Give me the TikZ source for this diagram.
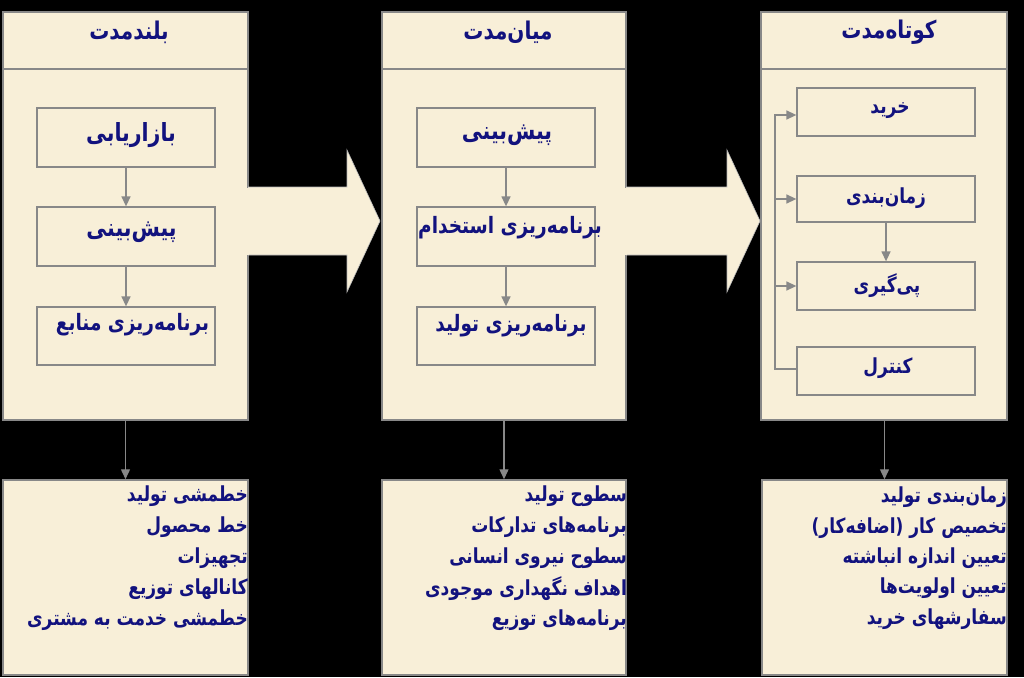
\documentclass[tikz,border=0pt]{standalone}
\usepackage{graphicx}
\usepackage{fontspec}
\newfontfamily\fa[Script=Arabic]{DejaVu Sans}
\TeXXeTstate=1
\usetikzlibrary{arrows.meta}
\definecolor{parch}{HTML}{F8EFD8}
\definecolor{navy}{HTML}{12127E}
\definecolor{edgegray}{HTML}{888888}
\newcommand{\rtltext}[1]{\scalebox{1}[1.22]{\fa\bfseries\beginR #1\endR}}
\begin{document}
\begin{tikzpicture}[x=1pt,y=-1pt,
  panel/.style={draw=edgegray, line width=1.5pt, fill=parch, inner sep=0pt},
  innerbox/.style={draw=edgegray, line width=1.3pt, fill=parch, inner sep=0pt, minimum width=178pt},
  conn/.style={draw=edgegray, line width=1.4pt, -{Triangle[length=10pt,width=9pt]}},
  headtxt/.style={text=navy, inner sep=0pt, font=\fontsize{20}{22}\selectfont},
  bigtxt/.style={text=navy, inner sep=0pt, font=\fontsize{20.5}{23}\selectfont},
  midtxt/.style={text=navy, inner sep=0pt, font=\fontsize{18.5}{20}\selectfont},
  smalltxt/.style={text=navy, inner sep=0pt, font=\fontsize{17}{19}\selectfont},
  listtxt/.style={text=navy, inner sep=0pt, anchor=east, font=\fontsize{17}{19}\selectfont},
  blockarrow/.style={fill=parch, draw=edgegray!60, line width=0.6pt}
]
\fill[black] (0,0) rectangle (1024,677);
\useasboundingbox (0,0) rectangle (1024,677);

% top panels
\node[panel, minimum width=245pt, minimum height=408pt] (L) at (125.5,216) {};
\node[panel, minimum width=244pt, minimum height=408pt] (M) at (504,216) {};
\node[panel, minimum width=246pt, minimum height=408pt] (R) at (884,216) {};
\foreach \p in {L,M,R}{
  \draw[draw=edgegray, line width=1.2pt] (\p.west |- 0,69) -- (\p.east |- 0,69);
}

% bottom panels
\node[panel, minimum width=245pt, minimum height=195pt] (LB) at (125.5,577.5) {};
\node[panel, minimum width=244pt, minimum height=195pt] (MB) at (504,577.5) {};
\node[panel, minimum width=245pt, minimum height=195pt] (RB) at (884.5,577.5) {};

% block arrows
\draw[blockarrow] (248,187) -- (347,187) -- (347,150) -- (380,221) -- (347,292) -- (347,255) -- (248,255);
\fill[parch] (247,187.5) rectangle (249,254.5);
\draw[blockarrow] (626,187) -- (727,187) -- (727,150) -- (760,221) -- (727,292) -- (727,255) -- (626,255);
\fill[parch] (625,187.5) rectangle (627,254.5);

% headers
\node[headtxt] (hL) at (129,32) {\rtltext{بلندمدت}};
\node[headtxt] (hM) at (508,32) {\rtltext{میان‌مدت}};
\node[headtxt] (hR) at (889,32) {\rtltext{کوتاه‌مدت}};

% left column boxes
\node[innerbox, minimum height=59pt] (L1) at (126,137.5) {};
\node[innerbox, minimum height=59pt] (L2) at (126,236.5) {};
\node[innerbox, minimum height=58pt] (L3) at (126,336) {};
\node[bigtxt] (tL1) at (131,135) {\rtltext{بازاریابی}};
\node[bigtxt] (tL2) at (131.5,232) {\rtltext{پیش‌بینی}};
\node[midtxt] (tL3) at (132.5,325) {\rtltext{برنامه‌ریزی منابع}};
\draw[conn] (L1) -- (L2);
\draw[conn] (L2) -- (L3);

% middle column boxes
\node[innerbox, minimum height=59pt] (M1) at (506,137.5) {};
\node[innerbox, minimum height=59pt] (M2) at (506,236.5) {};
\node[innerbox, minimum height=58pt] (M3) at (506,336) {};
\node[bigtxt] (tM1) at (507,135) {\rtltext{پیش‌بینی}};
\node[midtxt] (tM2) at (510,228) {\rtltext{برنامه‌ریزی استخدام}};
\node[midtxt] (tM3) at (511,326) {\rtltext{برنامه‌ریزی تولید}};
\draw[conn] (M1) -- (M2);
\draw[conn] (M2) -- (M3);

% right column boxes
\node[innerbox, minimum height=48pt] (R1) at (886,112) {};
\node[innerbox, minimum height=46pt] (R2) at (886,199) {};
\node[innerbox, minimum height=48pt] (R3) at (886,286) {};
\node[innerbox, minimum height=48pt] (R4) at (886,371) {};
\node[smalltxt] (tR1) at (890,111) {\rtltext{خرید}};
\node[smalltxt] (tR2) at (886,198) {\rtltext{زمان‌بندی}};
\node[smalltxt] (tR3) at (887,286) {\rtltext{پی‌گیری}};
\node[smalltxt] (tR4) at (888,368) {\rtltext{کنترل}};
\draw[conn] (R2) -- (R3);
\coordinate (bus) at (775,369);
\draw[conn] (bus -| R4.west) -- (bus) |- ([yshift=-3pt]R1.west);
\draw[conn] (bus |- R2.west) -- (R2.west);
\draw[conn] (bus |- R3.west) -- (R3.west);

% down arrows
\draw[conn] (L.south) -- (LB.north);
\draw[conn] (M.south) -- (MB.north);
\draw[conn] (R.south -| RB.north) -- (RB.north);

% lists
\node[listtxt] (a1) at (248,496) {\rtltext{خطمشی تولید}};
\node[listtxt] (a2) at (248,527) {\rtltext{خط محصول}};
\node[listtxt] (a3) at (248,558) {\rtltext{تجهیزات}};
\node[listtxt] (a4) at (248,589) {\rtltext{کانالهای توزیع}};
\node[listtxt] (a5) at (248,620) {\rtltext{خطمشی خدمت به مشتری}};

\node[listtxt] (b1) at (627,496) {\rtltext{سطوح تولید}};
\node[listtxt] (b2) at (627,527) {\rtltext{برنامه‌های تدارکات}};
\node[listtxt] (b3) at (627,558) {\rtltext{سطوح نیروی انسانی}};
\node[listtxt] (b4) at (627,589) {\rtltext{اهداف نگهداری موجودی}};
\node[listtxt] (b5) at (627,620) {\rtltext{برنامه‌های توزیع}};

\node[listtxt] (c1) at (1007,497) {\rtltext{زمان‌بندی تولید}};
\node[listtxt] (c2) at (1007,528) {\rtltext{تخصیص کار (اضافه‌کار)}};
\node[listtxt] (c3) at (1007,558) {\rtltext{تعیین اندازه انباشته}};
\node[listtxt] (c4) at (1007,588) {\rtltext{تعیین اولویت‌ها}};
\node[listtxt] (c5) at (1007,619) {\rtltext{سفارشهای خرید}};
\end{tikzpicture}
\end{document}
